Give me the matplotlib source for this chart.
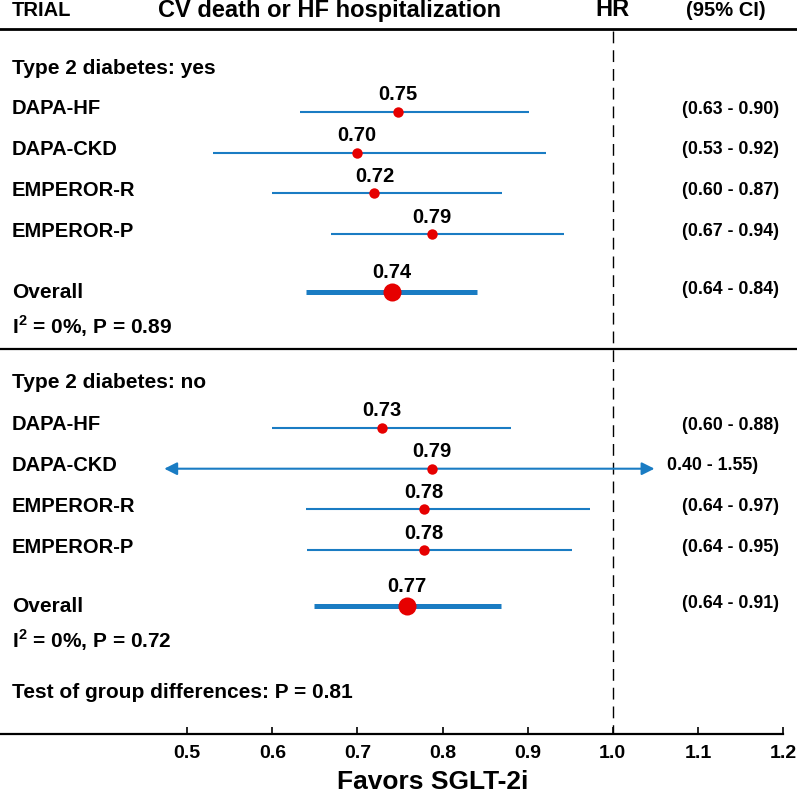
import matplotlib
matplotlib.use("Agg")
import matplotlib.pyplot as plt
import matplotlib.transforms as mtransforms

# --------------------
# Data
# --------------------
trials = ["DAPA-HF", "DAPA-CKD", "EMPEROR-R", "EMPEROR-P"]

# Type 2 diabetes: yes
yes_hr = [0.748, 0.699, 0.720, 0.788]
yes_lo = [0.632, 0.530, 0.600, 0.669]
yes_hi = [0.901, 0.921, 0.870, 0.943]
yes_hr_text = ["0.75", "0.70", "0.72", "0.79"]
yes_ci_text = ["(0.63 - 0.90)", "(0.53 - 0.92)", "(0.60 - 0.87)", "(0.67 - 0.94)"]
yes_arrow = [False, False, False, False]
yes_overall = [0.740, 0.639, 0.840]
yes_overall_text = ["0.74", "(0.64 - 0.84)"]
yes_het = "0%, P = 0.89"

# Type 2 diabetes: no
no_hr = [0.729, 0.788, 0.778, 0.778]
no_lo = [0.600, 0.473, 0.639, 0.641]
no_hi = [0.880, 1.049, 0.973, 0.952]
no_hr_text = ["0.73", "0.79", "0.78", "0.78"]
no_ci_text = ["(0.60 - 0.88)", "0.40 - 1.55)", "(0.64 - 0.97)", "(0.64 - 0.95)"]
no_arrow = [False, True, False, False]
no_overall = [0.758, 0.649, 0.869]
no_overall_text = ["0.77", "(0.64 - 0.91)"]
no_het = "0%, P = 0.72"

test_text = "Test of group differences: P = 0.81"
xticks = [0.5, 0.6, 0.7, 0.8, 0.9, 1.0, 1.1, 1.2]

# --------------------
# Style
# --------------------
BLUE = "#1a7cc3"
RED = "#e60000"
FONT = ["Liberation Sans", "DejaVu Sans"]
plt.rcParams["font.family"] = FONT
plt.rcParams["font.weight"] = "bold"
plt.rcParams["mathtext.fontset"] = "custom"
plt.rcParams["mathtext.bf"] = "Liberation Sans:bold"
plt.rcParams["mathtext.rm"] = "Liberation Sans:bold"

W, H = 797, 795
fig = plt.figure(figsize=(W / 100, H / 100), dpi=100)
# y data units are pixels from the top of the figure
ax = fig.add_axes([0, 61 / H, 783 / W, 734 / H])
ax.set_xlim(0.28, 1.2)
ax.set_ylim(734, 0)
for s in ["left", "top", "right"]:
    ax.spines[s].set_visible(False)
ax.spines["bottom"].set_linewidth(1.6)
ax.set_yticks([])
ax.set_xticks(xticks)
ax.set_xticklabels([f"{t:.1f}" for t in xticks])
ax.tick_params(axis="x", direction="in", length=5, width=1.2, labelsize=14, pad=8)
for lab in ax.get_xticklabels():
    lab.set_fontweight("bold")

# x in figure fraction, y in pixel rows
trans = mtransforms.blended_transform_factory(fig.transFigure, ax.transData)
LEFT = 12 / W
RIGHT = 682 / W


def left_text(y, s, size=15):
    ax.text(LEFT, y, s, transform=trans, ha="left", va="center",
            fontsize=size, fontweight="bold", clip_on=False)


def ci_row(y, hr, lo, hi, hr_txt, ci_txt, arrow=False, overall=False):
    if arrow:
        ax.annotate("", xy=(lo, y), xytext=(hi, y),
                    arrowprops=dict(arrowstyle="<|-|>", color=BLUE, lw=1.5,
                                    mutation_scale=19, shrinkA=0, shrinkB=0))
    else:
        ax.plot([lo, hi], [y, y], color=BLUE, lw=3.6 if overall else 1.5,
                solid_capstyle="butt", zorder=2)
    ax.plot(hr, y, "o", color=RED, ms=13 if overall else 7.5, mec="none", zorder=3)
    ax.text(hr, y - (19 if overall else 17), hr_txt, ha="center", va="center",
            fontsize=14.5, fontweight="bold")
    x_ci = (667 / W) if arrow else RIGHT
    ax.text(x_ci, y - 3, ci_txt, transform=trans, ha="left", va="center",
            fontsize=12.8, fontweight="bold", clip_on=False)


# header
ax.text(LEFT, 10, "TRIAL", transform=trans, ha="left", va="center", fontsize=14.5, clip_on=False)
ax.text(330 / W, 10, "CV death or HF hospitalization", transform=trans, ha="center",
        va="center", fontsize=17, clip_on=False)
ax.text(1.0, 10, "HR", ha="center", va="center", fontsize=17, clip_on=False)
ax.text(726 / W, 10, "(95% CI)", transform=trans, ha="center", va="center",
        fontsize=14.5, clip_on=False)
ax.plot([0, 1], [29, 29], transform=trans, color="black", lw=2.0, clip_on=False)
ax.plot([0, 1], [349, 349], transform=trans, color="black", lw=1.6, clip_on=False)

# reference line at HR = 1
ax.plot([1.0, 1.0], [31, 734], color="black", lw=1, linestyle=(0, (8.5, 5)), zorder=1)

groups = [
    ("Type 2 diabetes: yes", 68, 112, 292, 326,
     yes_hr, yes_lo, yes_hi, yes_hr_text, yes_ci_text, yes_arrow,
     yes_overall, yes_overall_text, yes_het),
    ("Type 2 diabetes: no", 382, 428, 606, 640,
     no_hr, no_lo, no_hi, no_hr_text, no_ci_text, no_arrow,
     no_overall, no_overall_text, no_het),
]

for (title, y_title, y0, y_over, y_het, hr, lo, hi, hr_t, ci_t, arr,
     ov, ov_t, het) in groups:
    left_text(y_title, title)
    for i, name in enumerate(trials):
        y = y0 + i * 40.7
        left_text(y - 3, name, size=14.5)
        ci_row(y, hr[i], lo[i], hi[i], hr_t[i], ci_t[i], arrow=arr[i])
    left_text(y_over + 1, "Overall")
    ci_row(y_over, ov[0], ov[1], ov[2], ov_t[0], ov_t[1], overall=True)
    left_text(y_het, r"I$^{\mathbf{2}}$ = " + het)

left_text(693, test_text)

ax.text(0.788, 789, "Favors SGLT-2i", ha="center", va="baseline", fontsize=19,
        fontweight="bold", clip_on=False)

fig.savefig("out.png", dpi=100)
